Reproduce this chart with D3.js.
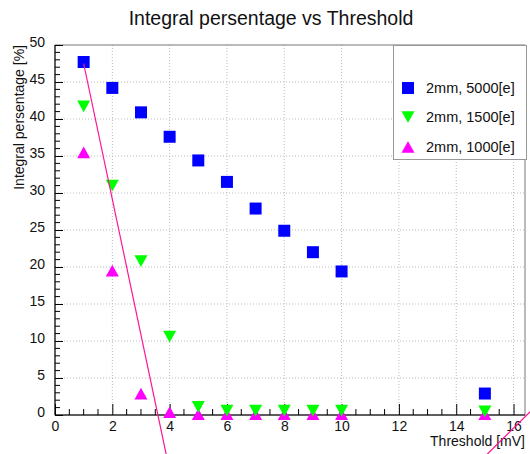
<!DOCTYPE html>
<html><head><meta charset="utf-8">
<script src="https://cdn.jsdelivr.net/npm/d3@7"></script>
<style>body{margin:0;background:#fff}svg{display:block}text{font-family:"Liberation Sans",Arial,sans-serif;fill:#111}</style>
</head><body><svg id="c" width="530" height="454"></svg>
<script>
const thresholds = [1,2,3,4,5,6,7,8,9,10,15];
const series5000 = [47.7,44.2,40.9,37.6,34.4,31.5,27.9,24.9,22.0,19.4,2.9];
const series1500 = [41.7,31.0,20.8,10.6,1.1,0.6,0.6,0.6,0.6,0.6,0.5];
const series1000 = [35.5,19.5,2.9,0.4,0.1,0.1,0.1,0.1,0.1,0.1,0.1];
const seriesNames = ["2mm, 5000[e]","2mm, 1500[e]","2mm, 1000[e]"];
const seriesColors = ["#0000ff","#00ff00","#ff00ff"];
const seriesShapes = ["square","down","up"];
const fitLine1X = [1, 3.95], fitLine1Y = [47.5, -6.6];
const fitLine2X = [15.0, 16.7], fitLine2Y = [-5.6, 0.9];
const xTicks = [0,2,4,6,8,10,12,14,16];
const yTicks = [0,5,10,15,20,25,30,35,40,45,50];

const svg = d3.select("#c");
const L=55,R=525,T=45,B=415;
const x = d3.scaleLinear().domain([0,16.4]).range([L,R]);
const y = d3.scaleLinear().domain([0,50]).range([B,T]);

svg.append("text").attr("x",271).attr("y",25).attr("text-anchor","middle").style("font-size","19.5px").text("Integral persentage vs Threshold");

// grid
const g = svg.append("g");
g.selectAll(".gx").data(xTicks.filter(d=>d>0)).enter().append("line")
 .attr("x1",d=>x(d)).attr("x2",d=>x(d)).attr("y1",T).attr("y2",B)
 .attr("stroke","#aaa").attr("stroke-dasharray","1,2").attr("stroke-width",0.8);
g.selectAll(".gy").data(yTicks.filter(d=>d>0&&d<50)).enter().append("line")
 .attr("y1",d=>y(d)).attr("y2",d=>y(d)).attr("x1",L).attr("x2",R)
 .attr("stroke","#aaa").attr("stroke-dasharray","1,2").attr("stroke-width",0.8);

// frame
svg.append("rect").attr("x",L).attr("y",T).attr("width",R-L).attr("height",B-T).attr("fill","none").attr("stroke","#777");

// axes
const xAxis = d3.axisBottom(x).tickValues(xTicks).tickSize(-11).tickPadding(15).tickFormat(d3.format("d"));
const xa = svg.append("g").attr("transform",`translate(0,${B})`).call(xAxis);
xa.select(".domain").remove();
xa.append("line").attr("x1",L).attr("x2",R).attr("stroke","#000");
xa.selectAll(".tick line").attr("stroke","#000");
xa.selectAll("text").style("font-size","14px").attr("fill","#111").attr("dy","0.1em");
const xMinor = d3.range(0,16.4,0.5).filter(v=>v%2!==0);
xa.selectAll(".mx").data(xMinor).enter().append("line").attr("x1",d=>x(d)).attr("x2",d=>x(d)).attr("y1",0).attr("y2",-6).attr("stroke","#000");

const yAxis = d3.axisLeft(y).tickValues(yTicks).tickSize(-8).tickPadding(10).tickFormat(d3.format("d"));
const ya = svg.append("g").attr("transform",`translate(${L},0)`).call(yAxis);
ya.select(".domain").remove();
ya.append("line").attr("y1",T).attr("y2",B).attr("stroke","#000");
ya.selectAll(".tick line").attr("stroke","#000");
ya.selectAll("text").style("font-size","14px").attr("fill","#111").attr("dy","0.1em");
const yMinor = d3.range(0,50,1).filter(v=>v%5!==0);
ya.selectAll(".my").data(yMinor).enter().append("line").attr("y1",d=>y(d)).attr("y2",d=>y(d)).attr("x1",0).attr("x2",5).attr("stroke","#000");

svg.append("text").attr("x",525).attr("y",446).attr("text-anchor","end").style("font-size","14px").text("Threshold [mV]");
svg.append("text").attr("transform","translate(24,45) rotate(-90)").attr("text-anchor","end").style("font-size","14px").text("Integral persentage [%]");

function sym(shape,size){
  if(shape==="square") return d3.symbol().type(d3.symbolSquare).size(size*size)();
  const h=size*0.9, w=size;
  if(shape==="up") return `M${-w/2},${h/2}L${w/2},${h/2}L0,${-h/2}Z`;
  return `M${-w/2},${-h/2}L${w/2},${-h/2}L0,${h/2}Z`;
}
const allSeries=[series5000,series1500,series1000];
[0,2,1].forEach(i=>{
  svg.append("g").selectAll("path").data(thresholds.map((t,j)=>[t,allSeries[i][j]])).enter().append("path")
   .attr("transform",d=>`translate(${x(d[0])},${y(d[1])})`).attr("d",sym(seriesShapes[i],i===0?12:13))
   .attr("fill",seriesColors[i]);
});

// lines
const line = d3.line().x(d=>x(d[0])).y(d=>y(d[1]));
svg.append("path").attr("d",line(fitLine1X.map((v,i)=>[v,fitLine1Y[i]]))).attr("stroke","#ff1493").attr("stroke-width",1.2).attr("fill","none");
svg.append("path").attr("d",line(fitLine2X.map((v,i)=>[v,fitLine2Y[i]]))).attr("stroke","#ff1493").attr("stroke-width",1.2).attr("fill","none");

// legend
const lg = svg.append("g");
lg.append("rect").attr("x",393.5).attr("y",45.5).attr("width",133).attr("height",114).attr("fill","#fff").attr("stroke","#999");
const ly=[88,117,147];
seriesNames.forEach((n,i)=>{
  lg.append("path").attr("transform",`translate(408,${ly[i]})`).attr("d",sym(seriesShapes[i],i===0?12:13)).attr("fill",seriesColors[i]);
  lg.append("text").attr("x",426).attr("y",ly[i]+5).style("font-size","14.5px").text(n);
});
</script></body></html>
